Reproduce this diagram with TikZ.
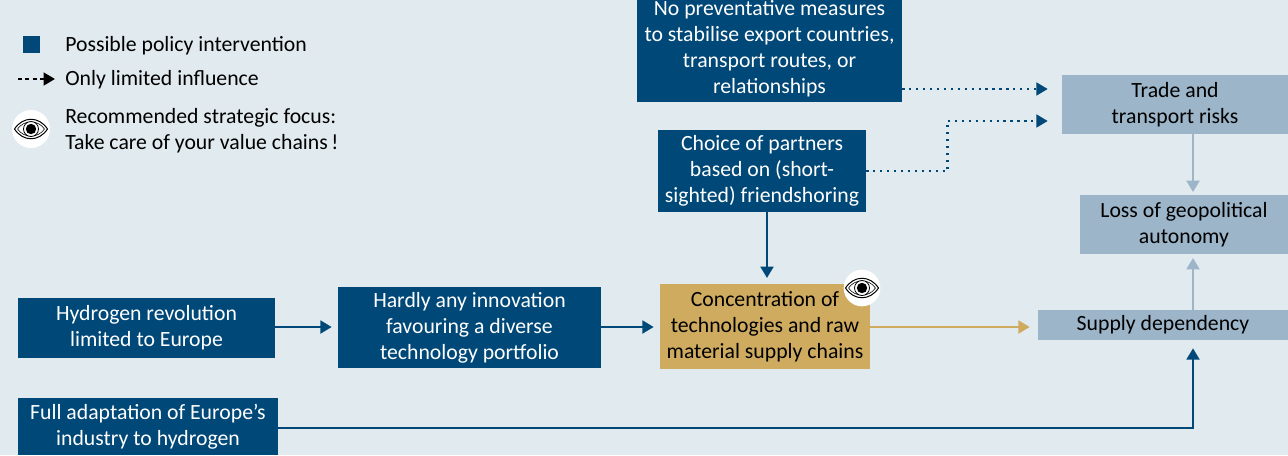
\documentclass[tikz,border=0pt]{standalone}
\usepackage{fontspec}
\setmainfont{Carlito}
\usetikzlibrary{arrows.meta,calc}
\definecolor{bg}{HTML}{E1EAEE}
\definecolor{dblue}{HTML}{004878}
\definecolor{lblue}{HTML}{9CB5C9}
\definecolor{gold}{HTML}{CFAB5F}
\begin{document}
\begin{tikzpicture}[x=0.75pt,y=-0.75pt,
  font=\fontsize{16.3pt}{19.5pt}\selectfont,
  dbox/.style={rectangle, fill=dblue, text=white, align=center, inner sep=0pt},
  lbox/.style={rectangle, fill=lblue, text=black, align=center, inner sep=0pt},
  gbox/.style={rectangle, fill=gold, text=black, align=center, inner sep=0pt},
  tip/.style={-{Triangle[length=8.5pt,width=9.5pt]}},
  link/.style={tip, draw=dblue, line width=2.1pt},
  llink/.style={tip, draw=lblue, line width=2.1pt},
  glink/.style={tip, draw=gold, line width=2.1pt},
  dotlink/.style={tip, draw=dblue, line width=2.0pt, dash pattern=on 1.7pt off 3.5pt},
  legtext/.style={anchor=west, align=left, inner sep=0pt, text=black},
  eyebg/.style={circle, fill=white, inner sep=0pt},
  eyeicon/.pic={
    \draw[line width=0.75pt] (-16.5,0) .. controls (-8,-13) and (8,-13) .. (16.5,0) .. controls (8,13) and (-8,13) .. (-16.5,0);
    \draw[line width=0.45pt] (-13.5,0) .. controls (-7,-9.5) and (7,-9.5) .. (13.5,0) .. controls (7,9.5) and (-7,9.5) .. (-13.5,0);
    \draw[line width=0.6pt, fill=white] (0,0) circle (7.5);
    \fill (0,0) circle (5.2);
  }
]
\fill[bg] (0,0) rectangle (1288,455);
\useasboundingbox (0,0) rectangle (1288,455);

% legend
\node[rectangle, fill=dblue, minimum size=13pt, inner sep=0pt] (lg1) at (31.5,44.5) {};
\node[legtext] (lt1) at (65,46) {Possible policy intervention};
\coordinate (ld1) at (18,79);
\coordinate (ld2) at (55,79);
\draw[tip, black, line width=1.8pt, dash pattern=on 3pt off 2.5pt] (ld1) -- (ld2);
\node[legtext] (lt2) at (65,80) {Only limited influence};
\node[eyebg, minimum size=28.5pt] (le) at (31,129) {};
\pic at (le.center) {eyeicon};
\node[legtext] (lt3) at (65,131) {Recommended strategic focus:\\Take care of your value chains\,!};

% boxes
\node[dbox, minimum width=198.75pt, minimum height=80.25pt] (A) at (769.5,48.5)
  {No preventative measures\\to stabilise export countries,\\transport routes, or\\relationships};
\node[dbox, minimum width=156pt, minimum height=61.5pt] (B) at (762,171)
  {Choice of partners\\based on (short-\\sighted) friendshoring};
\node[lbox, minimum width=169.5pt, minimum height=44.25pt] (C) at (1175,104.5)
  {Trade and\\transport risks};
\node[lbox, minimum width=156pt, minimum height=44.25pt] (D) at (1184,224.5)
  {Loss of geopolitical\\autonomy};
\node[lbox, minimum width=187.5pt, minimum height=22.5pt] (E) at (1163,325)
  {Supply dependency};
\node[dbox, minimum width=192.75pt, minimum height=45pt] (F) at (146.5,328)
  {Hydrogen revolution\\limited to Europe};
\node[dbox, minimum width=197.25pt, minimum height=60.75pt] (G) at (469.5,327.5)
  {Hardly any innovation\\favouring a diverse\\technology portfolio};
\node[gbox, minimum width=157.5pt, minimum height=63.75pt] (H) at (765,326.5)
  {Concentration of\\technologies and raw\\material supply chains};
\node[dbox, minimum width=195pt, minimum height=42.75pt] (I) at (148,426.5)
  {Full adaptation of Europe’s\\industry to hydrogen};

% eye on H
\node[eyebg, minimum size=27.5pt] (he) at (862,288) {};
\pic at (he.center) {eyeicon};

% connectors
\coordinate (row) at (0,327);
\draw[link, shorten >=4.5pt] (F.east |- row) -- (G.west |- row);
\draw[link, shorten >=4.5pt] (G.east |- row) -- (H.west |- row);
\draw[glink, shorten >=6pt] (H.east |- row) -- (E.west |- row);
\draw[link, shorten >=4.5pt] (B.south -| 767,0) -- (767,284);
\draw[link, shorten >=6pt] ($(I.east)+(0,1.5)$) -| (E.south -| 1193,0);
\draw[llink, shorten >=3pt] (E.north -| 1193,0) -- (1193,254);
\draw[llink, shorten >=2.25pt] (C.south -| 1193,0) -- (1193,195);

\coordinate (c1) at ($(C.west)+(-14,-15.5)$);
\coordinate (c2) at ($(C.west)+(-14,16.5)$);
\draw[dotlink] (A.east |- c1) -- (c1);
\draw[dotlink] (B.east) -- ++(81,0) |- (c2);
\end{tikzpicture}
\end{document}
